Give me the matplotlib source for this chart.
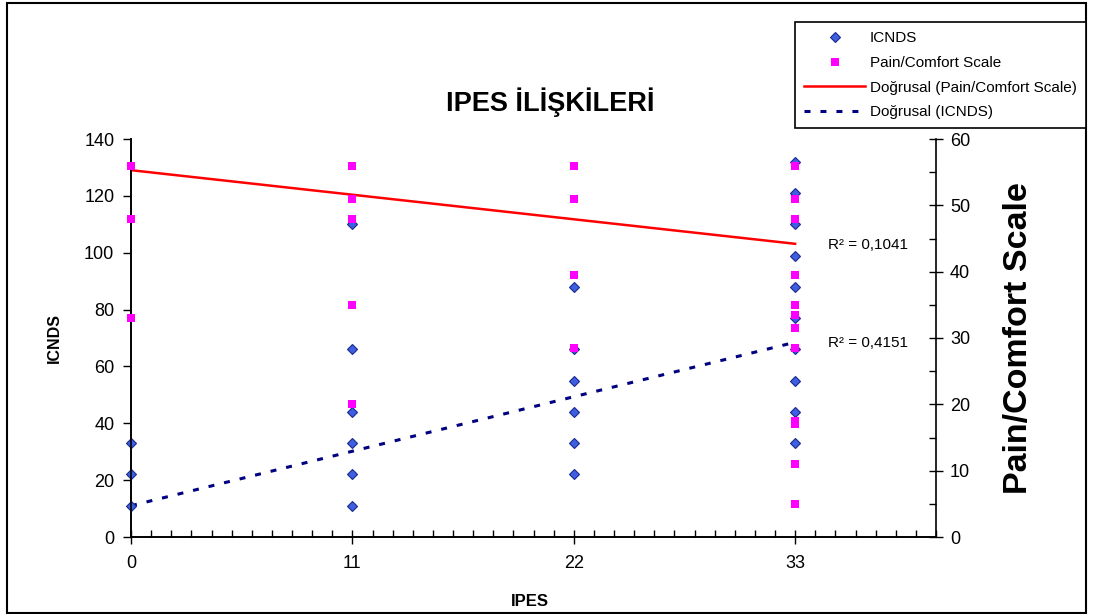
import matplotlib
matplotlib.use("Agg")
import matplotlib.pyplot as plt
from matplotlib.lines import Line2D
from matplotlib.patches import Rectangle
from matplotlib.ticker import MultipleLocator, FixedLocator

plt.rcParams["font.family"] = ["Liberation Sans", "DejaVu Sans"]
plt.rcParams["lines.scale_dashes"] = False

# ICNDS (left axis)
icnds_x = [0, 0, 0,
           11, 11, 11, 11, 11, 11,
           22, 22, 22, 22, 22, 22,
           33, 33, 33, 33, 33, 33, 33, 33, 33, 33]
icnds_y = [11, 22, 33,
           110, 66, 44, 33, 22, 11,
           88, 66, 55, 44, 33, 22,
           132, 121, 110, 99, 88, 77, 66, 55, 44, 33]

# Pain/Comfort Scale (right axis)
pain_x = [0, 0, 0,
          11, 11, 11, 11, 11,
          22, 22, 22, 22,
          33, 33, 33, 33, 33, 33, 33, 33, 33, 33, 33, 33]
pain_y = [56, 48, 33,
          56, 51, 48, 35, 20,
          56, 51, 39.5, 28.5,
          56, 51, 48, 39.5, 35, 33.5, 31.5, 28.5, 17.5, 17, 11, 5]

# linear trend lines (values at x = 0 and x = 33)
trend_x = [0, 33]
icnds_trend = [11.0, 68.5]
pain_trend = [55.3, 44.2]
r2_icnds = "R² = 0,4151"
r2_pain = "R² = 0,1041"

x_ticks = [0, 11, 22, 33]

fig = plt.figure(figsize=(10.93, 6.14), dpi=100)
ax = fig.add_axes([131 / 1093, 1 - 537 / 614, 805 / 1093, 398 / 614])
ax2 = ax.twinx()

dia_face = "#3D5FE0"
dia_edge = "#1C2A8C"
navy = "#000080"

ax.plot(icnds_x, icnds_y, linestyle="none", marker="D", markersize=5,
        markerfacecolor=dia_face, markeredgecolor=dia_edge, markeredgewidth=0.8,
        clip_on=False, zorder=3)
dash_line, = ax.plot(trend_x, icnds_trend, color=navy, linewidth=2.2, zorder=2)
dash_line.set_dashes((4.3, 7.2))

ax2.plot(trend_x, pain_trend, color="#FF0000", linewidth=1.8, zorder=2)
ax2.plot(pain_x, pain_y, linestyle="none", marker="s", markersize=6,
         markerfacecolor="#FF00FF", markeredgewidth=0, clip_on=False, zorder=3)

ax.set_xlim(0, 40)
ax.set_ylim(0, 140)
ax2.set_ylim(0, 60)

ax.xaxis.set_major_locator(FixedLocator(x_ticks))
ax.xaxis.set_minor_locator(MultipleLocator(1))
ax.yaxis.set_major_locator(MultipleLocator(20))
ax2.yaxis.set_major_locator(MultipleLocator(10))
ax2.yaxis.set_minor_locator(MultipleLocator(5))

ax.tick_params(axis="x", which="major", direction="inout", length=10, width=1,
               labelsize=13, pad=8)
ax.tick_params(axis="x", which="minor", direction="in", length=5, width=1)
ax.tick_params(axis="y", which="major", direction="out", length=6, width=1,
               labelsize=13, pad=6)
ax2.tick_params(axis="y", which="major", direction="inout", length=10, width=1,
                labelsize=13, pad=5)
ax2.tick_params(axis="y", which="minor", direction="in", length=5, width=1)

for a in (ax, ax2):
    a.spines["top"].set_visible(False)
    for s in a.spines.values():
        s.set_linewidth(1.2)
ax.spines["right"].set_visible(False)

ax.set_ylabel("ICNDS", fontsize=11.5, fontweight="bold")
ax.yaxis.set_label_coords(-0.0857, 0.5)
ax.set_xlabel("IPES", fontsize=12, fontweight="bold")
ax.xaxis.set_label_coords(0.4957, -0.143)
ax2.set_ylabel("Pain/Comfort Scale", fontsize=24.5, fontweight="bold")
ax2.yaxis.set_label_coords(1.083, 0.5)

fig.text(0.503, 0.834, "IPES İLİŞKİLERİ", fontsize=19.5, fontweight="bold",
         ha="center", va="center")

ax.text(34.64, 102.7, r2_pain, fontsize=11, ha="left", va="center")
ax.text(34.64, 68.2, r2_icnds, fontsize=11, ha="left", va="center")

handles = [
    Line2D([], [], linestyle="none", marker="D", markersize=5,
           markerfacecolor=dia_face, markeredgecolor=dia_edge, markeredgewidth=0.8),
    Line2D([], [], linestyle="none", marker="s", markersize=6,
           markerfacecolor="#FF00FF", markeredgewidth=0),
    Line2D([], [], color="#FF0000", linewidth=1.8),
    Line2D([], [], color=navy, linewidth=2.2, dashes=(4.3, 7.2)),
]
labels = ["ICNDS", "Pain/Comfort Scale", "Doğrusal (Pain/Comfort Scale)", "Doğrusal (ICNDS)"]
leg = fig.legend(handles, labels, loc="upper right",
                 bbox_to_anchor=(1086 / 1093, 1 - 22 / 614),
                 fontsize=11, frameon=True, fancybox=False, edgecolor="black",
                 handlelength=4.0, handletextpad=0.3, labelspacing=0.7,
                 borderpad=0.6, borderaxespad=0, framealpha=1)
leg.get_frame().set_linewidth(1.2)

fig.patches.append(Rectangle((7 / 1093, 1 / 614), 1079 / 1093, 610 / 614,
                             transform=fig.transFigure, fill=False,
                             edgecolor="black", linewidth=1.5))

fig.savefig("out.png", dpi=100)
